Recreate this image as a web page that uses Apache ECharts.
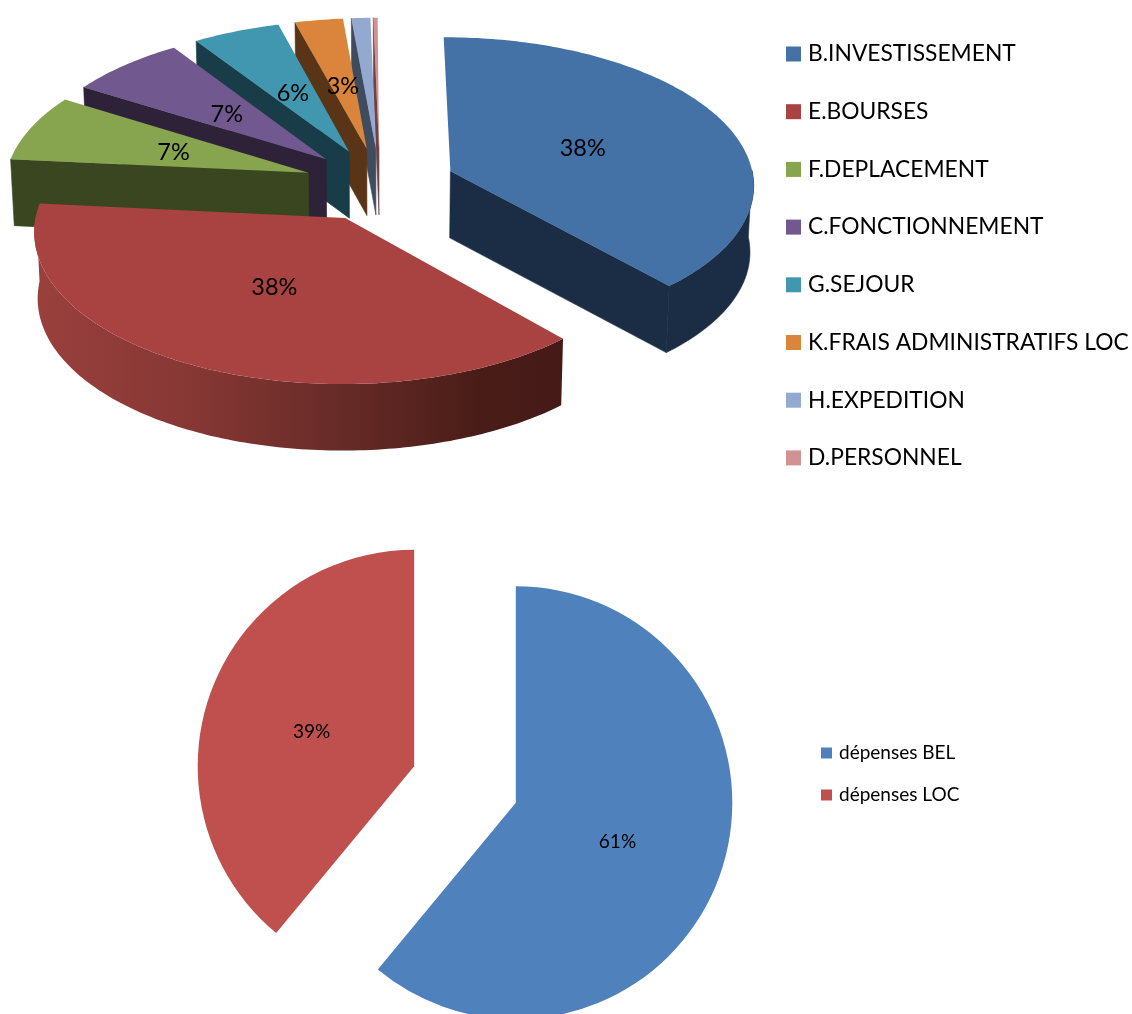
<!DOCTYPE html>
<html><head><meta charset="utf-8">
<script src="https://cdn.jsdelivr.net/npm/echarts@6/dist/echarts.min.js"></script>
<style>html,body{margin:0;padding:0;background:#fff}#c{width:1132px;height:1014px}</style>
</head><body><div id="c"></div>
<script>
const categories = ['B.INVESTISSEMENT','E.BOURSES','F.DEPLACEMENT','C.FONCTIONNEMENT','G.SEJOUR','K.FRAIS ADMINISTRATIFS LOC','H.EXPEDITION','D.PERSONNEL'];
const shares = [38.45,38.15,7.3,6.85,5.1,2.8,1.1,0.25];
const percentLabels = ['38%','38%','7%','7%','6%','3%','',''];
const topColors = ['#4471A6','#A84341','#87A44E','#71588F','#4197AF','#DA843C','#93A9D0','#D29291'];
const wallColors = ['#1A2D45','#8F3C39','#394620','#2E2239','#183D49','#5A3416','#3F4C60','#6E4342'];
const budgetNames = ['dépenses BEL','dépenses LOC'];
const budgetValues = [61,39];
const budgetLabels = ['61%','39%'];
const budgetColors = ['#4F81BD','#C0504D'];

const font = 'Lato, Carlito, "Noto Sans", sans-serif';
const P3 = {cx:380, cy:184.5, rx:304, ry:147, persp:0.081, explode:0.25, depth:66.5, shrink:0.99, startDeg:-0.3};
const total = shares.reduce((a,b)=>a+b,0);
const drawOrder = [0,7,6,5,4,3,2,1];

function project(X,Y){const s=1/(1-P3.persp*Y);return [P3.cx+P3.rx*X*s,P3.cy+P3.ry*Y*s];}
function drop(p){return [P3.cx+(p[0]-P3.cx)*P3.shrink,p[1]+P3.depth];}

function renderSlice(idx){
  return function(){
    const before = shares.slice(0,idx).reduce((a,b)=>a+b,0);
    const a0 = P3.startDeg+before/total*360, a1 = a0+shares[idx]/total*360, mid=(a0+a1)/2*Math.PI/180;
    const ox=P3.explode*Math.sin(mid), oy=-P3.explode*Math.cos(mid);
    const tip=project(ox,oy), rim=[], frontRim=[];
    for(let d=a0;;d+=1){
      const u=Math.min(d,a1)*Math.PI/180, p=project(ox+Math.sin(u),oy-Math.cos(u));
      rim.push(p);
      if(Math.cos(u)<=0.02) frontRim.push(p);
      if(d>=a1)break;
    }
    const first=rim[0], last=rim[rim.length-1];
    const wallStyle={fill:wallColors[idx],stroke:wallColors[idx],lineWidth:0.6};
    const poly=(pts,style)=>({type:'polygon',shape:{points:pts},style:style});
    const kids=[];
    if(Math.sin(a0*Math.PI/180)<-0.02) kids.push(poly([tip,first,drop(first),drop(tip)],wallStyle));
    if(Math.sin(a1*Math.PI/180)>0.02) kids.push(poly([tip,last,drop(last),drop(tip)],wallStyle));
    if(frontRim.length>1){
      const arcStyle = idx===1 ? {fill:new echarts.graphic.LinearGradient(0,0,1,0,[
        {offset:0,color:'#9A403D'},{offset:0.3,color:'#863734'},{offset:0.6,color:'#652A26'},{offset:0.85,color:'#491C17'},{offset:1,color:'#451A16'}])} : wallStyle;
      kids.push(poly(frontRim.concat(frontRim.map(drop).reverse()),arcStyle));
    }
    kids.push(poly([tip].concat(rim),{fill:topColors[idx]}));
    if(percentLabels[idx]){
      const t=0.48, lp=project(ox+t*Math.sin(mid),oy-t*Math.cos(mid));
      kids.push({type:'text',x:lp[0],y:lp[1]+2,z2:50,style:{text:percentLabels[idx],font:'23.5px '+font,fill:'#000',align:'center',verticalAlign:'middle'}});
    }
    return {type:'group',children:kids};
  };
}

const series = categories.map((name,i)=>({
  type:'custom',name:name,coordinateSystem:'none',silent:true,
  z:2+drawOrder.indexOf(i),
  itemStyle:{color:topColors[i]},
  data:[[shares[i]]],
  renderItem:renderSlice(i)
}));
series.push({
  type:'pie',name:'budget',center:[465,784.5],radius:[0,216.5],startAngle:90,clockwise:true,
  selectedMode:'multiple',selectedOffset:54,silent:true,animation:false,
  label:{show:true,position:'inner',formatter:p=>budgetLabels[p.dataIndex],fontFamily:font,fontSize:19,color:'#000'},
  labelLine:{show:false},
  labelLayout:p=>({dx:p.dataIndex===0?-3:2,dy:p.dataIndex===0?1:3}),
  data:budgetNames.map((n,i)=>({name:n,value:budgetValues[i],selected:true,itemStyle:{color:budgetColors[i]}}))
});

const chart = echarts.init(document.getElementById('c'),null,{renderer:'canvas'});
chart.setOption({
  animation:false,
  backgroundColor:'#fff',
  legend:[
    {data:categories,orient:'vertical',left:786,top:41,itemWidth:15,itemHeight:15,itemGap:31.7,icon:'rect',selectedMode:false,
     textStyle:{fontFamily:font,fontSize:22.8,color:'#000',height:26,lineHeight:26,padding:[0,0,0,2]},padding:0},
    {data:budgetNames,orient:'vertical',left:821,top:742,itemWidth:11,itemHeight:11,itemGap:20,icon:'rect',selectedMode:false,
     textStyle:{fontFamily:font,fontSize:19,color:'#000',height:22,lineHeight:22,padding:[0,0,0,2]},padding:0}
  ],
  series:series
});
</script></body></html>
